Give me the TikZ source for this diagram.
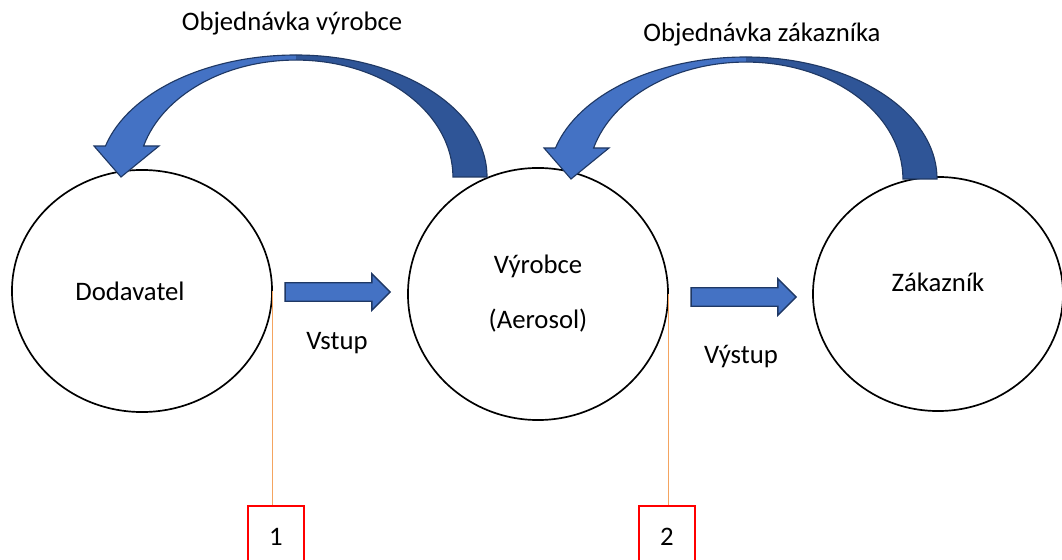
\documentclass[tikz,border=0pt]{standalone}
\usepackage{fontspec}
\setmainfont{Carlito}
\usepackage{tikz}
\usetikzlibrary{shapes.geometric}
\usetikzlibrary{shapes.arrows}
\usetikzlibrary{positioning}
\usetikzlibrary{calc}
\definecolor{arrlight}{HTML}{4472C4}
\definecolor{arrdark}{HTML}{2F5597}
\definecolor{arredge}{HTML}{1F3864}
\definecolor{tagline}{HTML}{F4A460}
\tikzset{every picture/.style={line width=1pt},every node/.style={font=\fontsize{19}{23}\selectfont}}

\begin{document}
\begin{tikzpicture}[x=0.025cm,y=0.025cm,
party/.style={ellipse,draw,line width=1.2pt,inner sep=0pt},
flow/.style={single arrow,draw=arredge,fill=arrlight,line width=1pt,minimum height=2.625cm,single arrow head extend=0.225cm,inner xsep=0pt,inner ysep=0.2125cm,text height=0pt,text depth=0pt},
tagbox/.style={draw=red,line width=1.8pt,minimum width=1.4cm,minimum height=1.55cm},
tagwire/.style={draw=tagline,line width=0.7pt}]
\useasboundingbox (0,0) rectangle (1062,559);
\node (dod) at (142,268) [party,minimum width=6.5cm,minimum height=6.05cm,label={[xshift=-0.3cm]center:Dodavatel}] {};
\node (vyr) at (538,265) [party,minimum width=6.5cm,minimum height=6.3cm,align=center] {Výrobce\\[16pt](Aerosol)};
\node (zak) at (938,265) [party,minimum width=6.25cm,minimum height=5.85cm,label={[yshift=0.29cm]center:Zákazník}] {};
% bent order arrows
\foreach \cx/\cy in {296/382,746/380} {
\begin{scope}[shift={(\cx,\cy)}]
\fill[arrdark] (191,0) arc[start angle=0,end angle=90,x radius=191,y radius=122] -- (0,117) arc[start angle=90,end angle=0,x radius=157,y radius=117] -- cycle;
\fill[arrlight] (0,122) arc[start angle=90,end angle=165.3,x radius=197,y radius=122] -- (-202,31) -- (-175,0) -- (-137,31) -- (-152.4,31) arc[start angle=164.6,end angle=90,x radius=158,y radius=117] -- cycle;
\draw[arredge,line width=0.8pt] (191,0) arc[start angle=0,end angle=90,x radius=191,y radius=122] arc[start angle=90,end angle=165.3,x radius=197,y radius=122] -- (-202,31) -- (-175,0) -- (-137,31) -- (-152.4,31) arc[start angle=164.6,end angle=90,x radius=158,y radius=117] arc[start angle=90,end angle=0,x radius=157,y radius=117] -- cycle;
\end{scope}
}
\node (ordmfr) at (292,535) {Objednávka výrobce};
\node (ordcust) at (762,524) {Objednávka zákazníka};
\node (in) at (333,267) [flow] {};
\node (out) at (739,262) [flow] {};
\node (vstup) at (337,216) {Vstup};
\node (vystup) at (741,202) {Výstup};
\foreach \n/\bx/\src in {1/276/dod,2/667/vyr} {
\node (tag\n) at (\bx,22) [tagbox] {\n};
\draw[tagwire] (\src.east) -- (\src.east |- tag\n.north);
}
\end{tikzpicture}
\end{document}
